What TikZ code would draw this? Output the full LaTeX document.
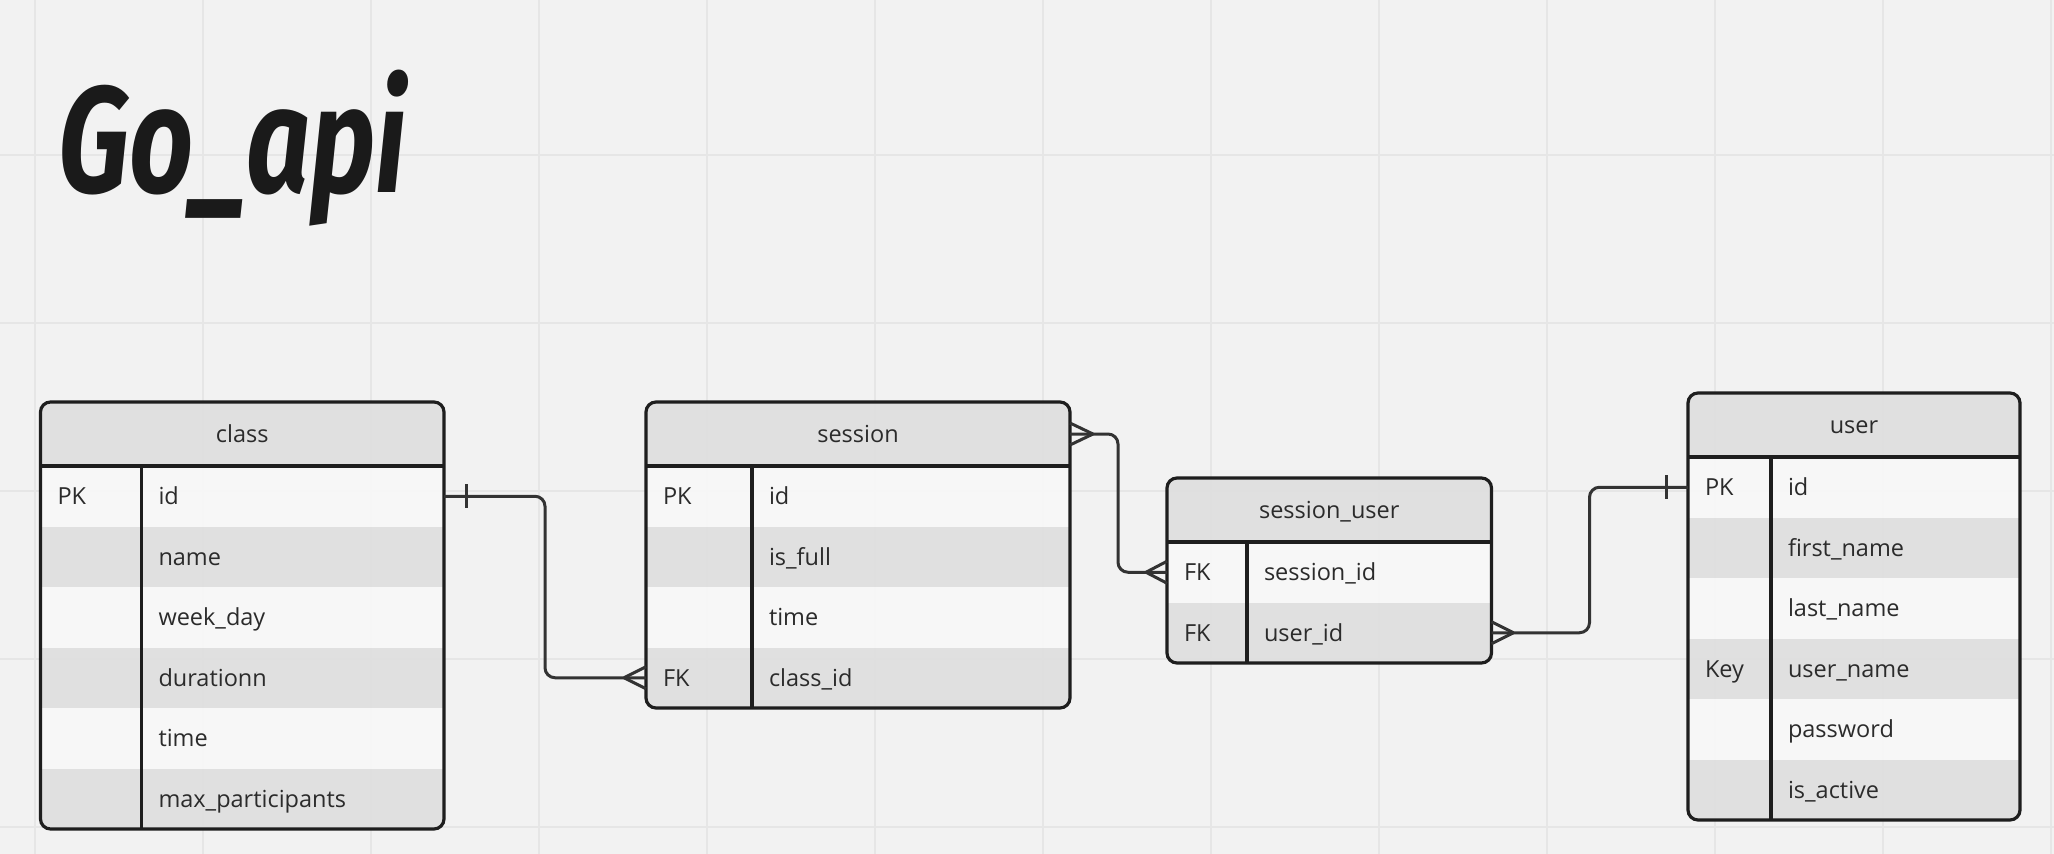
\documentclass[tikz,border=0pt]{standalone}
\usepackage{fontspec}
\setmainfont{Open Sans}
\newfontfamily\titlefont{Fira Sans}
\usetikzlibrary{calc}
\definecolor{bg}{HTML}{F2F2F2}
\definecolor{gridc}{HTML}{E6E6E6}
\definecolor{rowlight}{HTML}{F8F8F8}
\definecolor{rowdark}{HTML}{DFDFDF}
\definecolor{hdr}{HTML}{DFDFDF}
\definecolor{edge}{HTML}{1E1E1E}
\definecolor{txt}{HTML}{2B2B2B}
\definecolor{connc}{HTML}{333333}
\definecolor{titlec}{HTML}{1A1A1A}
\tikzset{
  tablebox/.style={draw=edge, line width=3.2, rounded corners=10, inner sep=0, outer sep=0},
  rowfill/.style={inner sep=0, outer sep=0, fill opacity=0.92, text opacity=1, draw=none},
  celltext/.style={inner sep=0, outer sep=0, text=txt, font=\fontsize{23.5}{28}\selectfont, anchor=base west},
  hdrtext/.style={inner sep=0, outer sep=0, text=txt, font=\fontsize{23.5}{28}\selectfont, anchor=base},
  divline/.style={draw=edge, line width=3.2},
  conn/.style={draw=connc, line width=3},
  gridline/.style={draw=gridc, line width=2},
}
% #1 name #2 left #3 top #4 width #5 key width #6 header #7 rows #8 list
\newcommand{\ertable}[8]{%
  \pgfmathsetmacro{\ertH}{64+60.5*#7}%
  \begin{scope}
    \clip[rounded corners=10] (#2,#3) rectangle ++(#4,\ertH);
    \node[rowfill, fill=hdr, minimum width=#4, minimum height=64, anchor=north west] (#1-h) at (#2,#3) {};
    \node[hdrtext] (#1-t) at ([yshift=-8.5]#1-h.center) {#6};
    \foreach \k/\f [count=\i] in {#8} {
      \pgfmathsetmacro{\ry}{#3+64+60.5*(\i-1)}
      \ifodd\i\relax\def\rc{rowlight}\else\def\rc{rowdark}\fi
      \node[rowfill, fill=\rc, minimum width=#4, minimum height=60.5, anchor=north west] (#1-\i) at (#2,\ry) {};
      \node[celltext] (#1-k\i) at ([xshift=17,yshift=-8.5]#1-\i.west) {\k};
      \node[celltext] (#1-f\i) at ([xshift=#5+17,yshift=-8.5]#1-\i.west) {\f};
    }
  \end{scope}
  \node[tablebox, minimum width=#4, minimum height=\ertH, anchor=north west] (#1) at (#2,#3) {};
  \draw[divline] (#1-h.south west) -- (#1-h.south east);
  \draw[divline] ([xshift=#5]#1-h.south west) -- ([xshift=#5]#1.south west);
}
\newcommand{\crowfoot}[2]{%
  \draw[conn] ([xshift=#2]#1) -- ([yshift=11]#1) ([xshift=#2]#1) -- ([yshift=-11]#1);}
\newcommand{\onetick}[2]{%
  \draw[conn] ([xshift=#2,yshift=12]#1) -- ([xshift=#2,yshift=-12]#1);}
\begin{document}
\begin{tikzpicture}[x=1pt, y=-1pt]
  \useasboundingbox (0,0) rectangle (2054,854);
  \fill[bg] (0,0) rectangle (2054,854);
  \foreach \gx in {35,203,...,2051} \draw[gridline] (\gx,0) -- (\gx,854);
  \foreach \gy in {155,323,491,659,827} \draw[gridline] (0,\gy) -- (2054,\gy);

  \node[anchor=base west, inner sep=0, text=titlec, font=\titlefont\bfseries\itshape\fontsize{112}{130}\selectfont] (title) at (58,192) {\scalebox{1}[1.35]{Go\_api}};

  \ertable{class}{40.5}{402}{403.5}{101}{class}{6}{PK/id,{}/name,{}/week\_day,{}/durationn,{}/time,{}/max\_participants}
  \ertable{session}{646}{402}{424}{106}{session}{4}{PK/id,{}/is\_full,{}/time,FK/class\_id}
  \ertable{su}{1167}{478}{324.5}{80}{session\_user}{2}{FK/session\_id,FK/user\_id}
  \ertable{user}{1688}{393}{332}{83}{user}{6}{PK/id,{}/first\_name,{}/last\_name,Key/user\_name,{}/password,{}/is\_active}

  \draw[conn, rounded corners=10] (class-1.east) -- ([xshift=101]class-1.east) |- (session-4.west);
  \draw[conn, rounded corners=10] (session-h.east) -- ([xshift=48]session-h.east) |- (su-1.west);
  \draw[conn, rounded corners=10] (su-2.east) -- ([xshift=98]su-2.east) |- (user-1.west);

  \onetick{class-1.east}{22}
  \crowfoot{session-4.west}{-22}
  \crowfoot{session-h.east}{23}
  \crowfoot{su-1.west}{-21}
  \crowfoot{su-2.east}{22}
  \onetick{user-1.west}{-22}
\end{tikzpicture}
\end{document}
